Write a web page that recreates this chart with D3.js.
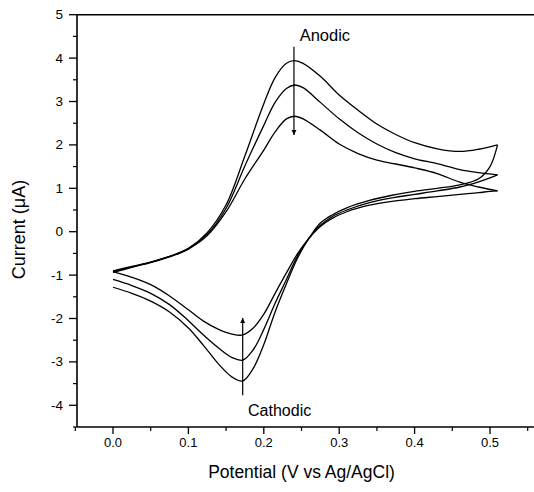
<!DOCTYPE html>
<html><head><meta charset="utf-8">
<script src="https://cdn.jsdelivr.net/npm/d3@7"></script>
<style>body{margin:0;background:#fff}svg{display:block}text{font-family:"Liberation Sans",Arial,sans-serif;fill:#000}</style>
</head><body>
<svg id="c" width="534" height="492"></svg>
<script>
// ---- data ----
const anodicE = [0, 0.025, 0.05, 0.075, 0.1, 0.125, 0.15, 0.175, 0.2, 0.215, 0.23, 0.241, 0.252, 0.275, 0.3, 0.325, 0.35, 0.375, 0.4, 0.43, 0.46, 0.485, 0.51];
const anodicOuter  = [-0.9, -0.8, -0.7, -0.57, -0.38, -0.02, 0.62, 1.75, 2.95, 3.55, 3.88, 3.94, 3.88, 3.58, 3.15, 2.8, 2.48, 2.24, 2.05, 1.91, 1.85, 1.9, 2.0];
const anodicMiddle = [-0.92, -0.81, -0.7, -0.57, -0.39, -0.06, 0.54, 1.52, 2.45, 2.98, 3.3, 3.38, 3.32, 2.98, 2.6, 2.28, 2.02, 1.82, 1.68, 1.57, 1.43, 1.36, 1.31];
const anodicInner  = [-0.94, -0.82, -0.71, -0.58, -0.4, -0.09, 0.46, 1.22, 1.88, 2.3, 2.6, 2.66, 2.6, 2.34, 2.02, 1.8, 1.65, 1.56, 1.47, 1.34, 1.14, 1.03, 0.94];
const cathodicE = [0.51, 0.5, 0.485, 0.46, 0.43, 0.4, 0.37, 0.34, 0.31, 0.29, 0.275, 0.26, 0.245, 0.23, 0.215, 0.2, 0.186, 0.172, 0.158, 0.14, 0.12, 0.1, 0.075, 0.05, 0.025, 0];
const cathodicOuter  = [2.0, 1.5, 1.22, 1.08, 1.0, 0.93, 0.84, 0.72, 0.55, 0.38, 0.2, -0.15, -0.6, -1.2, -1.85, -2.6, -3.15, -3.44, -3.35, -3.05, -2.62, -2.22, -1.85, -1.6, -1.42, -1.28];
const cathodicMiddle = [1.31, 1.24, 1.15, 1.03, 0.94, 0.86, 0.78, 0.67, 0.5, 0.34, 0.15, -0.15, -0.55, -1.1, -1.65, -2.25, -2.72, -2.96, -2.9, -2.68, -2.38, -2.05, -1.68, -1.42, -1.24, -1.1];
const cathodicInner  = [0.94, 0.93, 0.9, 0.86, 0.81, 0.76, 0.7, 0.61, 0.46, 0.3, 0.12, -0.15, -0.5, -0.95, -1.42, -1.9, -2.22, -2.38, -2.36, -2.25, -2.06, -1.8, -1.48, -1.22, -1.05, -0.92];
const xTicks = [0, 0.1, 0.2, 0.3, 0.4, 0.5];
const xTickLabels = ["0.0", "0.1", "0.2", "0.3", "0.4", "0.5"];
const xMinor = [-0.05, 0.05, 0.15, 0.25, 0.35, 0.45, 0.55];
const yTicks = [-4, -3, -2, -1, 0, 1, 2, 3, 4, 5];
const yMinor = [-4.5, -3.5, -2.5, -1.5, -0.5, 0.5, 1.5, 2.5, 3.5, 4.5];
const xTitle = "Potential (V vs Ag/AgCl)";
const yTitle = "Current (\u03bcA)";
const annotations = [
  {text: "Anodic", x: 0.281, y: 4.4, from: 4.26, to: 2.23, ax: 0.24, size: 16.5},
  {text: "Cathodic", x: 0.221, y: -4.25, from: -3.77, to: -1.99, ax: 0.172, size: 16}
];

// ---- chart ----
const svg = d3.select("#c");
const X0 = 77, Y0 = 427, Y1 = 14.7;
const x = d3.scaleLinear().domain([0, 0.5]).range([113, 490]);
const xLo = x.invert(X0), xHi = x.invert(540);
const y = d3.scaleLinear().domain([-4.5, 5]).range([Y0, Y1]);
const X1 = x(xHi);

svg.append("defs").append("marker").attr("id","ah").attr("viewBox","0 0 10 10")
  .attr("refX",10).attr("refY",5).attr("markerWidth",5).attr("markerHeight",8)
  .attr("markerUnits","userSpaceOnUse").attr("orient","auto")
  .append("path").attr("d","M0,0L10,5L0,10z").attr("fill","#000");

// curves
const ln = d3.line().x(d => x(d[0])).y(d => y(d[1])).curve(d3.curveCatmullRom.alpha(0.5));
const branches = [
  [anodicE, anodicOuter], [anodicE, anodicMiddle], [anodicE, anodicInner],
  [cathodicE, cathodicOuter], [cathodicE, cathodicMiddle], [cathodicE, cathodicInner]
];
branches.forEach(([es, is]) => {
  svg.append("path").attr("d", ln(es.map((e,i)=>[e, is[i]])))
    .attr("fill","none").attr("stroke","#000").attr("stroke-width",1.3);
});

// frame top
svg.append("line").attr("x1",X0).attr("x2",X1).attr("y1",Y1).attr("y2",Y1).attr("stroke","#000").attr("stroke-width",1.6);

// x axis
const gx = svg.append("g");
gx.append("line").attr("x1",X0).attr("x2",X1).attr("y1",Y0).attr("y2",Y0).attr("stroke","#000").attr("stroke-width",1.6);
xTicks.forEach((t,i) => {
  gx.append("line").attr("x1",x(t)).attr("x2",x(t)).attr("y1",Y0).attr("y2",Y0+7).attr("stroke","#000").attr("stroke-width",1.3);
  gx.append("text").attr("x",x(t)).attr("y",Y0+20).attr("text-anchor","middle").attr("font-size",13).text(xTickLabels[i]);
});
xMinor.forEach(t => {
  gx.append("line").attr("x1",x(t)).attr("x2",x(t)).attr("y1",Y0).attr("y2",Y0+4).attr("stroke","#000").attr("stroke-width",1.2);
});
// y axis
const gy = svg.append("g");
gy.append("line").attr("x1",X0).attr("x2",X0).attr("y1",Y0).attr("y2",Y1).attr("stroke","#000").attr("stroke-width",1.6);
yTicks.forEach(t => {
  gy.append("line").attr("x1",X0-8).attr("x2",X0).attr("y1",y(t)).attr("y2",y(t)).attr("stroke","#000").attr("stroke-width",1.3);
  gy.append("text").attr("x",X0-14).attr("y",y(t)+4.5).attr("text-anchor","end").attr("font-size",13.5).text(t);
});
yMinor.forEach(t => {
  gy.append("line").attr("x1",X0-4).attr("x2",X0).attr("y1",y(t)).attr("y2",y(t)).attr("stroke","#000").attr("stroke-width",1.2);
});

// titles
svg.append("text").attr("x",(x(0)+x(0.5))/2).attr("y",478).attr("text-anchor","middle").attr("font-size",17.5).text(xTitle);
svg.append("text").attr("transform",`translate(25,${y(0.05)}) rotate(-90)`).attr("text-anchor","middle").attr("font-size",18).text(yTitle);

// annotations
annotations.forEach(a => {
  svg.append("text").attr("x",x(a.x)).attr("y",y(a.y)).attr("text-anchor","middle").attr("font-size",a.size).text(a.text);
  svg.append("line").attr("x1",x(a.ax)).attr("x2",x(a.ax)).attr("y1",y(a.from)).attr("y2",y(a.to))
    .attr("stroke","#000").attr("stroke-width",1.2).attr("marker-end","url(#ah)");
});
</script>
</body></html>
